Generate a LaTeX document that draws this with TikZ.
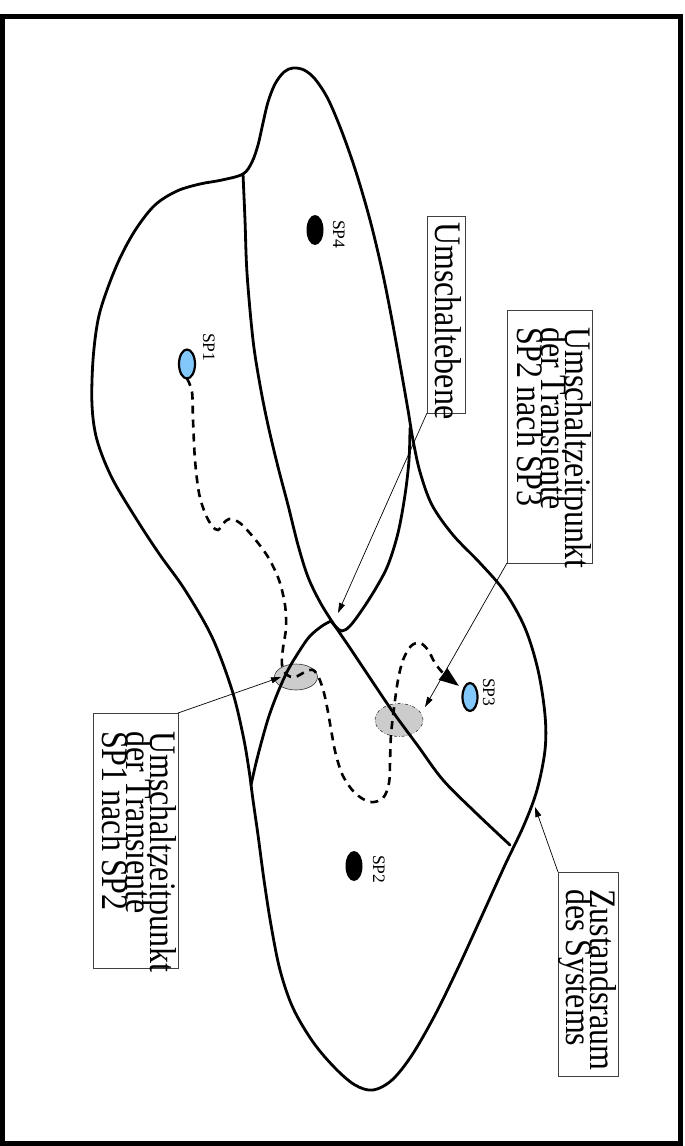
\documentclass[tikz,border=0pt]{standalone}
\usepackage{fontspec}
\setmainfont{Liberation Serif}
\usepackage{graphicx}
\usetikzlibrary{arrows.meta,shapes.geometric}

\definecolor{stablefill}{RGB}{130,200,250}
\definecolor{switchgrey}{RGB}{204,204,204}

% lines of a caption, set with a fixed baseline distance
\newcommand\stackedlines[1]{\vtop{\baselineskip=20.5pt\lineskiplimit=-100pt\lineskip=0pt\halign{##\hfil\cr#1\crcr}}}
\newcommand\captiontext[1]{\fontsize{32}{20.5}\selectfont\scalebox{1}[1.17]{\stackedlines{#1}}}

\tikzset{
  frame/.style={line width=5pt},
  region/.style={line width=2.8pt, line join=round, line cap=round},
  transient/.style={line width=2.6pt, dash pattern=on 8pt off 6pt,
    -{Triangle[length=20pt,width=14pt]}},
  spot/.style={ellipse, inner sep=0pt, outer sep=0pt, minimum width=16pt, minimum height=29pt},
  stablept/.style={spot, draw, line width=2.2pt, fill=stablefill},
  otherpt/.style={spot, fill=black},
  switchzone/.style={ellipse, inner sep=0pt, outer sep=0pt, fill=switchgrey, draw=black!80, line width=0.6pt},
  caption/.style={rotate=-90, anchor=base west, inner sep=0pt, outer sep=0pt},
  ptlabel/.style={caption, font=\fontsize{17.5}{20}\selectfont},
  box/.style={draw=black!75, line width=0.8pt, inner sep=0pt, outer sep=0pt},
  pointer/.style={line width=0.7pt, -{Triangle[length=10pt,width=6pt]}}
}

\begin{document}
\begin{tikzpicture}[x=1pt, y=-1pt]
\useasboundingbox (0,0) rectangle (685,1146);
\draw[frame] (2.5,16.5) rectangle (680.5,1143.5);

% switching zones
\node[switchzone, minimum width=43pt, minimum height=26pt] (g1) at (296,677) {};
\node[switchzone, dash dot, minimum width=48pt, minimum height=33pt] (g2) at (399,720) {};

% outer boundary of the state space
\draw[region] plot[smooth cycle, tension=0.55] coordinates {
  (243,174) (252,162) (258,145) (263,123) (268,102) (275,84) (284,72) (293,68)
  (304,70) (315,79) (328,99) (342,132) (356,172) (370,220) (382,270) (392,320)
  (401,370) (408,410) (413,440) (420,472) (432,505) (453,535) (480,563) (505,592)
  (525,628) (538,670) (545,715) (545,750) (537,790) (524,825) (505,865) (480,920)
  (458,968) (435,1015) (412,1055) (392,1080) (373,1090) (355,1085) (335,1068)
  (313,1042) (293,1008) (280,970) (271,925) (264,880) (258,835) (253,800)
  (249,770) (243,735) (232,690) (212,637) (185,590) (160,555) (137,520)
  (112,478) (97,440) (92,405) (93,360) (98,320) (107,290) (120,258) (136,229)
  (155,205) (177,191) (200,184) (222,180)};

% separating line from the notch down to the right boundary
\draw[region] plot[smooth, tension=0.55] coordinates {
  (243,174) (245,220) (247,273) (253,340) (260,385) (268,425) (278,467)
  (288,505) (298,545) (308,577) (320,602) (333,623) (350,648) (370,678)
  (393,712) (418,746) (443,780) (476,813) (510,845)};

% switching plane
\draw[region] plot[smooth, tension=0.55] coordinates {
  (410,428) (409,460) (405,495) (398,533) (388,565) (376,588) (362,610)
  (350,626) (342,631) (336,627) (331,621)};
\draw[region] plot[smooth, tension=0.55] coordinates {
  (331,621) (322,626) (310,636) (300,650) (288,670) (278,692) (269,716)
  (262,740) (256,763) (251,785)};

% stationary points
\node[stablept] (sp1) at (187,364) {};
\node[stablept, minimum width=15pt, minimum height=28pt] (sp3) at (470,697) {};
\node[otherpt, minimum width=17pt, minimum height=30pt] (sp2) at (354,866) {};
\node[otherpt, minimum width=17pt, minimum height=30pt] (sp4) at (315,230) {};
\node[ptlabel] (l1) at (203,333) {SP1};
\node[ptlabel] (l2) at (373,855) {SP2};
\node[ptlabel] (l3) at (483,678) {SP3};
\node[ptlabel] (l4) at (333,220) {SP4};

% transient SP1 -> SP2 -> SP3
\coordinate (tipsp3) at (459,686);
\draw[transient] plot[smooth, tension=0.55] coordinates {
  (sp1.south) (192,392) (193,420) (195,460) (199,493) (205,513) (212,526)
  (218,530) (223,524) (229,519) (240,523) (254,538) (268,557) (279,580)
  (285,605) (286,628) (283,648) (282,665) (287,675) (295,677) (305,672)
  (313,670) (319,678) (324,693) (328,712) (332,735) (336,755) (343,776)
  (355,793) (370,802) (383,798) (389,783) (390,762) (391,735) (394,708)
  (398,680) (403,660) (411,646) (420,643) (428,650) (435,663) (444,674)
  (tipsp3)};

% captions
\node[box, minimum width=38pt, minimum height=197pt] (b1) at (446,314.5) {};
\node[caption] (t1) at (435,222) {\captiontext{Umschaltebene}};
\node[box, minimum width=85pt, minimum height=253pt] (b2) at (549.5,436.5) {};
\node[caption] (t2) at (565,327) {\captiontext{Umschaltzeitpunkt\cr der Transiente\cr SP2 nach SP3}};
\node[box, minimum width=85pt, minimum height=255pt] (b3) at (135.5,840.5) {};
\node[caption] (t3) at (150,731) {\captiontext{Umschaltzeitpunkt\cr der Transiente\cr SP1 nach SP2}};
\node[box, minimum width=60pt, minimum height=204pt] (b4) at (588,974) {};
\node[caption] (t4) at (590,889) {\captiontext{Zustandsraum\cr des Systems}};

% pointers
\coordinate (tipplane) at (338,613);
\coordinate (tipg1) at (281,677);
\coordinate (tipg2) at (425,707);
\coordinate (tipspace) at (535,807);
\draw[pointer] (b1.south west) -- (tipplane);
\draw[pointer] (b2.south west) -- (tipg2);
\draw[pointer] (b3.north east) -- (tipg1);
\draw[pointer] (b4.north west) -- (tipspace);
\end{tikzpicture}
\end{document}
